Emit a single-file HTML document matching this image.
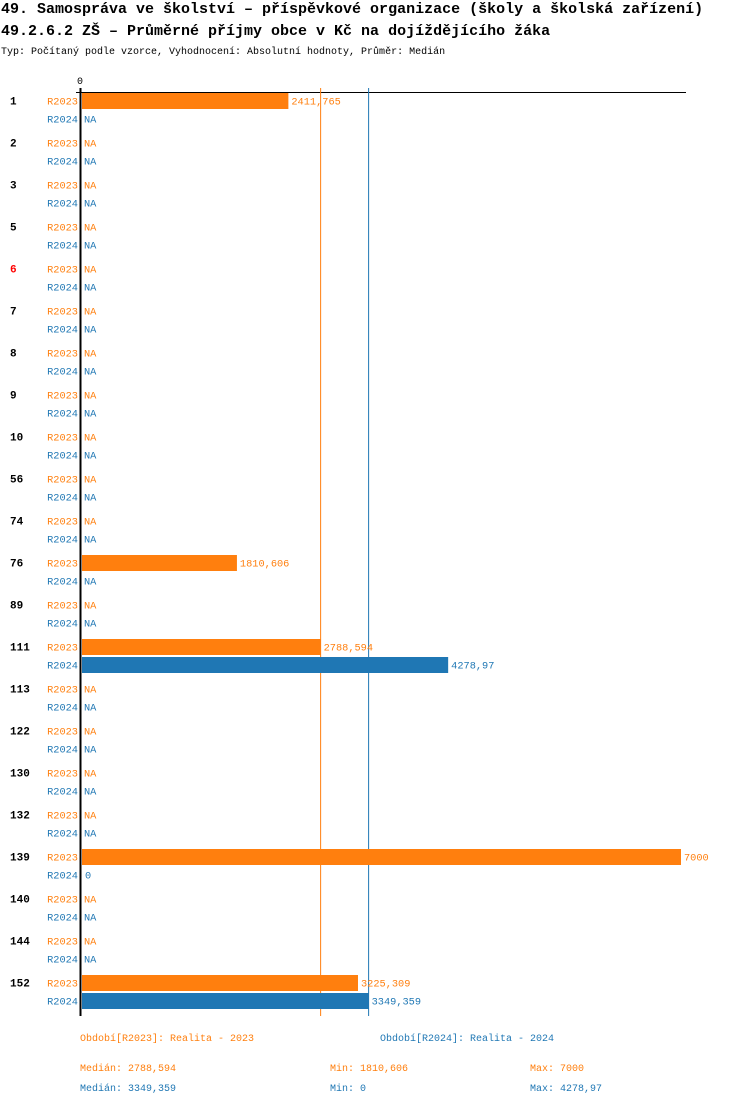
<!DOCTYPE html>
<html><head><meta charset="utf-8">
<style>
body{margin:0;background:#fff;width:750px;height:1106px;overflow:hidden}
svg{display:block;font-family:"Liberation Mono",monospace}
</style></head><body>
<svg id="c" width="750" height="1106">
<text x="1" y="13" font-size="15" font-weight="bold" fill="#000">49. Samospráva ve školství – příspěvkové organizace (školy a školská zařízení)</text>
<text x="1" y="35" font-size="15" font-weight="bold" fill="#000">49.2.6.2 ZŠ – Průměrné příjmy obce v Kč na dojíždějícího žáka</text>
<text x="1" y="54" font-size="10" fill="#000">Typ: Počítaný podle vzorce, Vyhodnocení: Absolutní hodnoty, Průměr: Medián</text>
</svg>
<script>
const categories=["1","2","3","5","6","7","8","9","10","56","74","76","89","111","113","122","130","132","139","140","144","152"];
const r2023=[2411.765,null,null,null,null,null,null,null,null,null,null,1810.606,null,2788.594,null,null,null,null,7000,null,null,3225.309];
const r2024=[null,null,null,null,null,null,null,null,null,null,null,null,null,4278.97,null,null,null,null,0,null,null,3349.359];
const labels2023=["2411,765","","","","","","","","","","","1810,606","","2788,594","","","","","7000","","","3225,309"];
const labels2024=["","","","","","","","","","","","","","4278,97","","","","","0","","","3349,359"];
const medians=[2788.594,3349.359];
const maxValue=7000;
const O="#ff7f0e",B="#1f77b4";
const svg=document.getElementById('c');
const NS="http://www.w3.org/2000/svg";
const x=v=>82+v*(681-82)/maxValue;
function el(t,a,txt){const e=document.createElementNS(NS,t);for(const k in a)e.setAttribute(k,a[k]);if(txt!==undefined)e.textContent=txt;svg.appendChild(e);return e;}
let e;
e=el('text',{x:77,y:84,'font-size':10,fill:'#000'},'0');


e=el('line',{x1:76,y1:92.5,x2:686,y2:92.5,stroke:'#000','stroke-width':1});


medians.forEach((m,i)=>{
 e=el('line',{x1:x(m),y1:88,x2:x(m),y2:1016,stroke:i?B:O,'stroke-width':1});
 
 
});
categories.forEach((c,i)=>{
 const y1=101+42*i,y2=119+42*i;
 e=el('text',{x:10,y:y1+3.5,'font-size':11,'font-weight':'bold',fill:c==='6'?'#f00':'#000'},c);
 
 
 [[r2023,labels2023,O,y1,'R2023'],[r2024,labels2024,B,y2,'R2024']].forEach(([arr,lab,col,y,s])=>{
  e=el('text',{x:78,y:y+3.5,'font-size':10.3,fill:col,'text-anchor':'end'},s);
  
  
  const v=arr[i];
  if(v===null){
   e=el('text',{x:84,y:y+3.5,'font-size':10.3,fill:col},'NA');
   
   
  }else{
   if(v>0){
    e=el('rect',{x:82,y:y-8,width:x(v)-82,height:16,fill:col});
    
    
   }
   e=el('text',{x:x(v)+3,y:y+3.5,'font-size':10.3,fill:col},lab[i]);
   
   
  }
 });
});
e=el('rect',{x:79.5,y:88,width:2,height:928,fill:'#000'});


const foot=[[80,1041,O,'Období[R2023]: Realita - 2023','legend-r2023'],[380,1041,B,'Období[R2024]: Realita - 2024','legend-r2024'],
[80,1071,O,'Medián: 2788,594','median-r2023'],[330,1071,O,'Min: 1810,606','min-r2023'],[530,1071,O,'Max: 7000','max-r2023'],
[80,1091,B,'Medián: 3349,359','median-r2024'],[330,1091,B,'Min: 0','min-r2024'],[530,1091,B,'Max: 4278,97','max-r2024']];
foot.forEach(f=>{
 e=el('text',{x:f[0],y:f[1],'font-size':10,fill:f[2]},f[3]);
 
 
});
</script>
</body></html>
